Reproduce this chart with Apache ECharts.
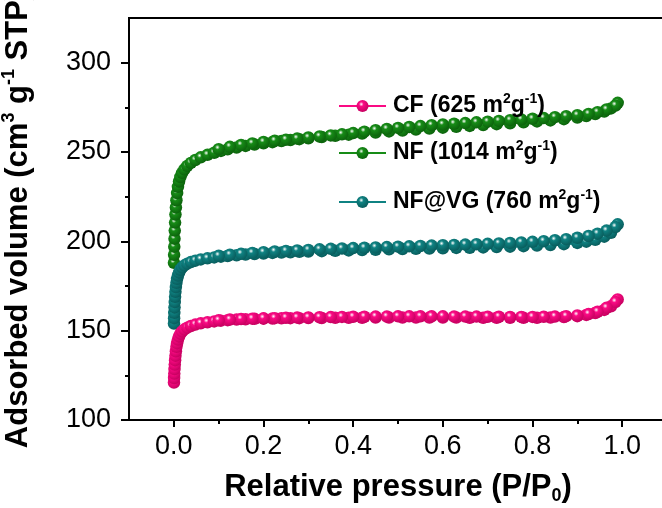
<!DOCTYPE html>
<html>
<head>
<meta charset="utf-8">
<script src="https://cdn.jsdelivr.net/npm/echarts@6/dist/echarts.min.js"></script>
<style>html,body{margin:0;padding:0;background:#fff}#c{width:662px;height:508px}</style>
</head>
<body>
<div id="c"></div>
<script>
// ---- data ----
const seriesNames = ['CF', 'NF', 'NF@VG'];
const legendSurface = ['625', '1014', '760'];
const xMajorTicks = [0, 0.2, 0.4, 0.6, 0.8, 1.0];
const xMinorTicks = [0.1, 0.3, 0.5, 0.7, 0.9];
const yMajorTicks = [100, 150, 200, 250, 300];
const yMinorTicks = [125, 175, 225, 275];

// adsorption branch relative pressures
const pAds = [0.0003, 0.0006, 0.001, 0.0015, 0.0021, 0.0028, 0.0036, 0.0046, 0.0058, 0.0073,
  0.0092, 0.0116, 0.0146, 0.0185, 0.0235, 0.03, 0.038, 0.048, 0.06, 0.075,
  0.09, 0.105, 0.12, 0.14, 0.16, 0.18, 0.2, 0.22, 0.24, 0.26,
  0.28, 0.3, 0.33, 0.36, 0.39, 0.42, 0.45, 0.48, 0.51, 0.54,
  0.57, 0.6, 0.63, 0.66, 0.69, 0.72, 0.75, 0.78, 0.81, 0.84,
  0.87, 0.9, 0.92, 0.94, 0.96, 0.975, 0.99];
// desorption branch relative pressures
const pDes = [0.985, 0.965, 0.945, 0.925, 0.9, 0.875, 0.85, 0.825, 0.8, 0.775,
  0.75, 0.725, 0.7, 0.675, 0.65, 0.625, 0.6, 0.575, 0.55, 0.525,
  0.5, 0.475, 0.45, 0.425, 0.4, 0.375, 0.35, 0.325, 0.3, 0.275,
  0.25, 0.225, 0.2, 0.175, 0.15, 0.125, 0.1];

const cfAds = [121, 123.5, 126, 128.5, 131, 133.5, 136, 138.5, 141, 143,
  145, 146.8, 148.3, 149.6, 150.7, 151.7, 152.6, 153.4, 154.1, 154.7,
  155.2, 155.6, 155.9, 156.2, 156.4, 156.6, 156.7, 156.8, 156.9, 157.0,
  157.0, 157.1, 157.1, 157.2, 157.2, 157.2, 157.3, 157.3, 157.3, 157.3,
  157.3, 157.3, 157.3, 157.2, 157.2, 157.2, 157.2, 157.2, 157.2, 157.3,
  157.6, 158.1, 158.8, 159.9, 161.6, 163.6, 167.5];
const cfDes = [166, 162.8, 160.6, 159.3, 158.5, 158.1, 157.9, 157.8, 157.7, 157.7,
  157.7, 157.8, 157.8, 157.9, 157.9, 157.9, 158.0, 158.0, 158.0, 158.0,
  158.0, 157.9, 157.9, 157.8, 157.8, 157.7, 157.6, 157.5, 157.4, 157.3,
  157.2, 157.0, 156.9, 156.7, 156.5, 156.2, 155.8];

const nfAds = [188, 192.5, 197, 201.5, 206, 210.5, 215, 219, 223, 227,
  230.5, 233.5, 236, 238.3, 240.3, 242.2, 243.9, 245.5, 247, 248.4,
  249.6, 250.6, 251.5, 252.5, 253.4, 254.2, 254.9, 255.5, 256.1, 256.7,
  257.2, 257.7, 258.4, 259.1, 259.7, 260.3, 260.9, 261.5, 262.0, 262.6,
  263.1, 263.6, 264.1, 264.6, 265.1, 265.6, 266.1, 266.6, 267.1, 267.7,
  268.4, 269.3, 270.1, 271.2, 272.6, 274.4, 277.5];
const nfDes = [276, 273.8, 272.3, 271.3, 270.6, 270.0, 269.5, 269.0, 268.6, 268.2,
  267.8, 267.4, 267.0, 266.6, 266.2, 265.8, 265.4, 265.0, 264.5, 264.0,
  263.5, 262.9, 262.2, 261.4, 260.6, 259.9, 259.3, 258.7, 258.1, 257.5,
  256.9, 256.3, 255.6, 254.8, 253.9, 252.9, 251.6];

const vgAds = [154, 157, 160, 163, 166, 169, 171.8, 174.4, 176.8, 179,
  180.9, 182.6, 184.1, 185.4, 186.5, 187.5, 188.4, 189.2, 189.9, 190.5,
  191.0, 191.4, 191.8, 192.2, 192.6, 192.9, 193.2, 193.5, 193.7, 193.9,
  194.1, 194.3, 194.5, 194.7, 194.9, 195.1, 195.3, 195.5, 195.7, 195.8,
  196.0, 196.1, 196.3, 196.4, 196.6, 196.8, 197.0, 197.3, 197.6, 197.9,
  198.4, 199.1, 199.8, 200.9, 202.6, 204.8, 209.5];
const vgDes = [208, 206, 204.3, 203.0, 202.0, 201.2, 200.6, 200.1, 199.7, 199.4,
  199.1, 198.8, 198.6, 198.4, 198.2, 198.0, 197.8, 197.6, 197.4, 197.2,
  197.0, 196.8, 196.6, 196.4, 196.2, 196.0, 195.8, 195.5, 195.2, 194.9,
  194.6, 194.3, 193.9, 193.5, 193.0, 192.5, 191.9];

// ---- build ----
const colors = { 'CF': '#fa0a84', 'NF': '#178c17', 'NF@VG': '#0f8282' };
const darks = { 'CF': '#c4005e', 'NF': '#0b600b', 'NF@VG': '#085a5a' };
function pts(ads, des) {
  return pAds.map((p, i) => [p, ads[i]]).concat(pDes.map((p, i) => [p, des[i]]));
}
function ball(name) {
  return {
    type: 'radial', x: 0.4, y: 0.35, r: 0.68,
    colorStops: [
      { offset: 0, color: '#ffffff' },
      { offset: 0.28, color: colors[name] },
      { offset: 1, color: darks[name] }
    ]
  };
}
const dataMap = { 'CF': pts(cfAds, cfDes), 'NF': pts(nfAds, nfDes), 'NF@VG': pts(vgAds, vgDes) };
const drawOrder = ['NF', 'NF@VG', 'CF'];
const series = drawOrder.map(n => ({
  name: n, type: 'line', xAxisIndex: 0, yAxisIndex: 0,
  data: dataMap[n], symbol: 'circle', symbolSize: 12.5, showAllSymbol: true,
  lineStyle: { color: colors[n], width: 2.5 },
  itemStyle: { color: ball(n), borderWidth: 0 },
  emphasis: { disabled: true }, z: 3
}));

const rich = {
  t: { fontFamily: 'Liberation Sans', fontWeight: 'bold', fontSize: 23, color: '#000', lineHeight: 28 },
  s: { fontFamily: 'Liberation Sans', fontWeight: 'bold', fontSize: 14, color: '#000', verticalAlign: 'top', lineHeight: 28 }
};
const legendTops = [92, 139, 188];
const legends = seriesNames.map((n, i) => ({
  data: [n], left: 338, top: legendTops[i], orient: 'vertical', padding: 0,
  itemWidth: 47, itemHeight: 15, itemGap: 0, selectedMode: false,
  formatter: name => '{t|' + name + ' (' + legendSurface[i] + ' m}{s|2}{t|g}{s|-1}{t|)}',
  textStyle: { rich: rich, padding: [0, 0, 0, 2] }
}));

const axisFont = { fontFamily: 'Liberation Sans', fontSize: 27, color: '#000' };
const nameRich = {
  b: { fontFamily: 'Liberation Sans', fontWeight: 'bold', fontSize: 31, color: '#000', lineHeight: 36 },
  sup: { fontFamily: 'Liberation Sans', fontWeight: 'bold', fontSize: 18, color: '#000', verticalAlign: 'top', lineHeight: 36 },
  sub: { fontFamily: 'Liberation Sans', fontWeight: 'bold', fontSize: 18, color: '#000', verticalAlign: 'bottom', lineHeight: 36 }
};

const option = {
  animation: false,
  backgroundColor: '#fff',
  grid: {
    left: 129, top: 18, width: 538, height: 402,
    outerBoundsMode: 'none', containLabel: false,
    show: true, borderColor: '#000', borderWidth: 2, backgroundColor: 'transparent'
  },
  legend: legends,
  xAxis: [
    {
      type: 'value', min: -0.1, max: 1.1, position: 'bottom',
      name: '{b|Relative pressure (P/P}{sub|0}{b|)}', nameLocation: 'middle', nameGap: 49,
      nameTextStyle: { rich: nameRich },
      splitLine: { show: false },
      axisLine: { show: true, onZero: false, lineStyle: { color: '#000', width: 2 } },
      axisTick: { show: true, customValues: xMajorTicks, length: 7, inside: false, lineStyle: { color: '#000', width: 2 } },
      axisLabel: { customValues: xMajorTicks, margin: 13, formatter: v => v.toFixed(1), ...axisFont }
    },
    {
      type: 'value', min: -0.1, max: 1.1, position: 'bottom', offset: 0,
      splitLine: { show: false },
      axisLine: { show: false, onZero: false },
      axisTick: { show: true, customValues: xMinorTicks, length: 4, lineStyle: { color: '#000', width: 2 } },
      axisLabel: { show: false }
    }
  ],
  yAxis: [
    {
      type: 'value', min: 100, max: 325, position: 'left',
      name: '{b|Adsorbed volume (cm}{sup|3}{b| g}{sup|-1}{b| STP)}', nameLocation: 'middle', nameGap: 93,
      nameTextStyle: { rich: nameRich },
      splitLine: { show: false },
      axisLine: { show: true, onZero: false, lineStyle: { color: '#000', width: 2 } },
      axisTick: { show: true, customValues: yMajorTicks, length: 8, lineStyle: { color: '#000', width: 2 } },
      axisLabel: { customValues: yMajorTicks, margin: 18, formatter: v => String(v), ...axisFont }
    },
    {
      type: 'value', min: 100, max: 325, position: 'left', offset: 0,
      splitLine: { show: false },
      axisLine: { show: false, onZero: false },
      axisTick: { show: true, customValues: yMinorTicks, length: 4, lineStyle: { color: '#000', width: 2 } },
      axisLabel: { show: false }
    }
  ],
  series: series
};
const chart = echarts.init(document.getElementById('c'), null, { renderer: 'canvas' });
chart.setOption(option);
</script>
</body>
</html>
